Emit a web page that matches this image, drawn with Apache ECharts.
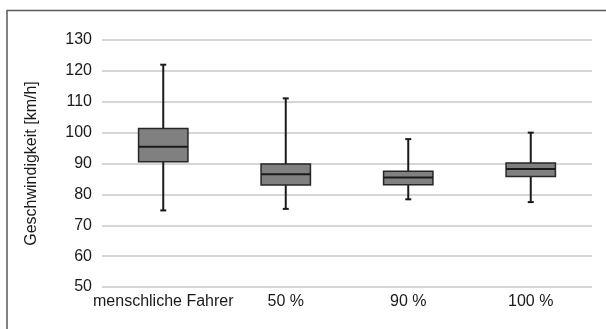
<!DOCTYPE html>
<html>
<head>
<meta charset="utf-8">
<script src="https://cdn.jsdelivr.net/npm/echarts@6/dist/echarts.min.js"></script>
<style>
html,body{margin:0;padding:0;background:#fff;}
#c{width:606px;height:329px;}
</style>
</head>
<body>
<div id="c"></div>
<script>
var categories = ['menschliche Fahrer', '50 %', '90 %', '100 %'];
var whiskerLow = [74.8, 75.3, 78.4, 77.5];
var q1 = [90.6, 83.0, 83.1, 85.8];
var median = [95.4, 86.5, 85.5, 88.2];
var q3 = [101.3, 89.8, 87.5, 90.2];
var whiskerHigh = [122.0, 111.1, 97.9, 100.0];
var yTicks = [50, 60, 70, 80, 90, 100, 110, 120, 130];

var data = categories.map(function (c, i) {
  return [i, whiskerLow[i], q1[i], median[i], q3[i], whiskerHigh[i]];
});

var chart = echarts.init(document.getElementById('c'), null, {renderer: 'canvas'});
var font = 'Liberation Sans, Arial, sans-serif';

chart.setOption({
  animation: false,
  backgroundColor: '#fff',
  graphic: [{
    type: 'rect',
    shape: {x: 7, y: 10.5, width: 700, height: 400},
    style: {fill: 'none', stroke: '#5a5a5a', lineWidth: 1.5},
    silent: true,
    z: -1
  }],
  grid: {left: 102, right: 14, top: 40, bottom: 42},
  xAxis: {
    type: 'category',
    data: categories,
    axisLine: {show: false},
    axisTick: {show: false},
    axisLabel: {color: '#1a1a1a', fontSize: 16, fontFamily: font, margin: 7, interval: 0},
    splitLine: {show: false}
  },
  yAxis: {
    type: 'value',
    min: yTicks[0],
    max: yTicks[yTicks.length - 1],
    interval: 10,
    name: 'Geschwindigkeit [km/h]',
    nameLocation: 'middle',
    nameGap: 62,
    nameTextStyle: {color: '#1a1a1a', fontSize: 16, fontFamily: font},
    axisLine: {show: false},
    axisTick: {show: false},
    axisLabel: {color: '#1a1a1a', fontSize: 16, fontFamily: font, margin: 10},
    splitLine: {lineStyle: {color: '#c8c8c8', width: 1.5}}
  },
  series: [{
    type: 'custom',
    data: data,
    encode: {x: 0, y: [1, 2, 3, 4, 5]},
    renderItem: function (params, api) {
      var idx = api.value(0);
      var pLow = api.coord([idx, api.value(1)]);
      var pQ1 = api.coord([idx, api.value(2)]);
      var pMed = api.coord([idx, api.value(3)]);
      var pQ3 = api.coord([idx, api.value(4)]);
      var pHigh = api.coord([idx, api.value(5)]);
      var bw = api.size([1, 0])[0] * 0.403;
      var cx = pMed[0];
      var cap = 3;
      var lineStyle = {stroke: '#1a1a1a', lineWidth: 2};
      return {
        type: 'group',
        children: [
          {type: 'line', shape: {x1: cx, y1: pHigh[1], x2: cx, y2: pQ3[1]}, style: lineStyle},
          {type: 'line', shape: {x1: cx, y1: pQ1[1], x2: cx, y2: pLow[1]}, style: lineStyle},
          {type: 'line', shape: {x1: cx - cap, y1: pHigh[1], x2: cx + cap, y2: pHigh[1]}, style: lineStyle},
          {type: 'line', shape: {x1: cx - cap, y1: pLow[1], x2: cx + cap, y2: pLow[1]}, style: lineStyle},
          {type: 'rect', shape: {x: cx - bw / 2, y: pQ3[1], width: bw, height: pQ1[1] - pQ3[1]},
            style: {fill: '#808080', stroke: '#262626', lineWidth: 1.5}},
          {type: 'line', shape: {x1: cx - bw / 2, y1: pMed[1], x2: cx + bw / 2, y2: pMed[1]},
            style: {stroke: '#1a1a1a', lineWidth: 2}}
        ]
      };
    }
  }]
});
</script>
</body>
</html>
